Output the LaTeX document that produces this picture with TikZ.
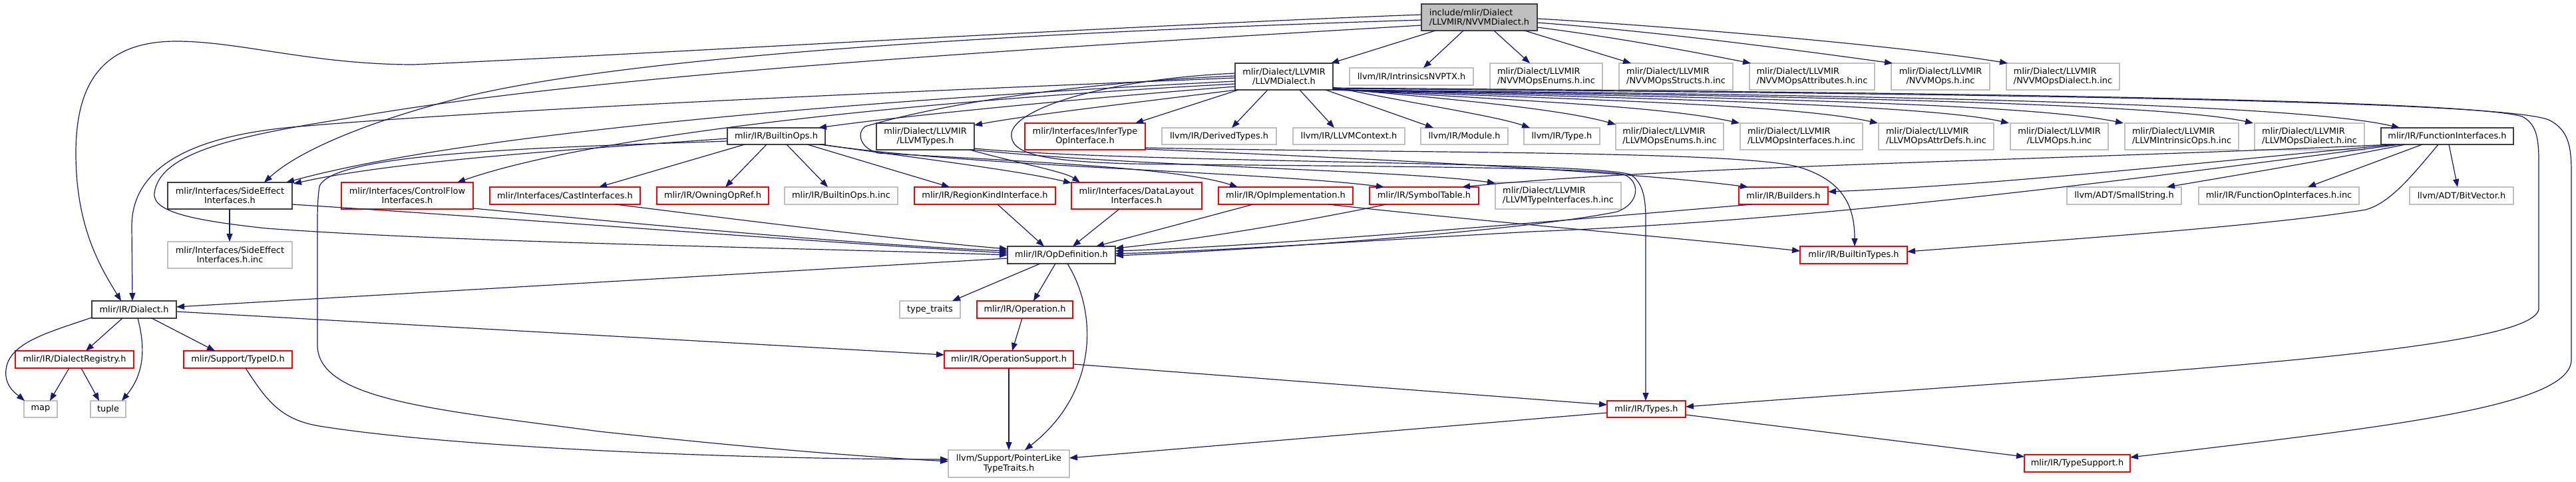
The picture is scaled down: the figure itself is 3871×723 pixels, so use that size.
\documentclass[tikz,border=0pt]{standalone}
\usepackage{fontspec}
\setmainfont{DejaVu Sans}
\usetikzlibrary{arrows.meta,calc}
\definecolor{mblue}{RGB}{25,25,112}
\definecolor{lgray}{RGB}{191,191,191}
\definecolor{dgray}{RGB}{64,64,64}
\newcommand\bx[7]{\node[#6,minimum width={#4-#2},minimum height={#5-#3}] (#1) at ({(#2+#4)/2},{(#3+#5)/2}) {#7};}
\begin{document}
\begin{tikzpicture}[x=1pt,y=-1pt,
  every node/.style={font=\fontsize{12.9}{14.3}\selectfont, inner sep=0pt, outer sep=0pt, text=black},
  dbox/.style={draw=dgray, line width=1.6pt, fill=white, align=center},
  gbox/.style={draw=lgray, line width=1.3pt, fill=white, align=center},
  gboxl/.style={gbox, align=left},
  rbox/.style={draw=red, line width=1.3pt, fill=white, align=center},
  rootbox/.style={draw=dgray, line width=1.6pt, fill=lgray, align=left},
  edge/.style={draw=mblue, line width=1.2pt, -{Triangle[length=12pt,width=9pt]}}]
\useasboundingbox[fill=white] (0,0) rectangle (3871,723);
% nodes
\bx{R}{2136}{6}{2310}{46}{rootbox}{include/mlir/Dialect\\/LLVMIR/NVVMDialect.h}
\bx{LD}{1856}{95}{2003}{135}{dbox}{mlir/Dialect/LLVMIR\\/LLVMDialect.h}
\bx{INV}{2028}{102}{2214}{128}{gbox}{llvm/IR/IntrinsicsNVPTX.h}
\bx{NE}{2239}{95}{2408}{135}{gboxl}{mlir/Dialect/LLVMIR\\/NVVMOpsEnums.h.inc}
\bx{NS}{2433}{95}{2604}{135}{gboxl}{mlir/Dialect/LLVMIR\\/NVVMOpsStructs.h.inc}
\bx{NA}{2629}{95}{2817}{135}{gboxl}{mlir/Dialect/LLVMIR\\/NVVMOpsAttributes.h.inc}
\bx{NO}{2842}{95}{2990}{135}{gbox}{mlir/Dialect/LLVMIR\\/NVVMOps.h.inc}
\bx{ND}{3015}{95}{3185}{135}{gboxl}{mlir/Dialect/LLVMIR\\/NVVMOpsDialect.h.inc}
\bx{BO}{1093}{192}{1240}{217}{dbox}{mlir/IR/BuiltinOps.h}
\bx{LT}{1317}{185}{1464}{225}{dbox}{mlir/Dialect/LLVMIR\\/LLVMTypes.h}
\bx{IT}{1540}{185}{1721}{225}{rbox}{mlir/Interfaces/InferType\\OpInterface.h}
\bx{DT}{1746}{192}{1918}{217}{gbox}{llvm/IR/DerivedTypes.h}
\bx{LC}{1943}{192}{2111}{217}{gbox}{llvm/IR/LLVMContext.h}
\bx{MO}{2135}{192}{2266}{217}{gbox}{llvm/IR/Module.h}
\bx{TY}{2290}{192}{2404}{217}{gbox}{llvm/IR/Type.h}
\bx{LOE}{2428}{185}{2590}{225}{gboxl}{mlir/Dialect/LLVMIR\\/LLVMOpsEnums.h.inc}
\bx{LOI}{2615}{185}{2799}{225}{gboxl}{mlir/Dialect/LLVMIR\\/LLVMOpsInterfaces.h.inc}
\bx{LOA}{2823}{185}{2996}{225}{gboxl}{mlir/Dialect/LLVMIR\\/LLVMOpsAttrDefs.h.inc}
\bx{LO}{3021}{185}{3168}{225}{gbox}{mlir/Dialect/LLVMIR\\/LLVMOps.h.inc}
\bx{LIO}{3193}{185}{3364}{225}{gboxl}{mlir/Dialect/LLVMIR\\/LLVMIntrinsicOps.h.inc}
\bx{LOD}{3388}{185}{3553}{225}{gboxl}{mlir/Dialect/LLVMIR\\/LLVMOpsDialect.h.inc}
\bx{FI}{3578}{192}{3777}{217}{dbox}{mlir/IR/FunctionInterfaces.h}
\bx{SE}{252}{274}{439}{314}{dbox}{mlir/Interfaces/SideEffect\\Interfaces.h}
\bx{CF}{513}{274}{711}{314}{rbox}{mlir/Interfaces/ControlFlow\\Interfaces.h}
\bx{CI}{736}{281}{962}{307}{rbox}{mlir/Interfaces/CastInterfaces.h}
\bx{OOR}{987}{281}{1155}{307}{rbox}{mlir/IR/OwningOpRef.h}
\bx{BOI}{1179}{281}{1349}{307}{gbox}{mlir/IR/BuiltinOps.h.inc}
\bx{RK}{1374}{281}{1586}{307}{rbox}{mlir/IR/RegionKindInterface.h}
\bx{DL}{1610}{274}{1806}{314}{rbox}{mlir/Interfaces/DataLayout\\Interfaces.h}
\bx{OI}{1831}{281}{2033}{307}{rbox}{mlir/IR/OpImplementation.h}
\bx{ST}{2058}{281}{2222}{307}{rbox}{mlir/IR/SymbolTable.h}
\bx{LTI}{2247}{274}{2436}{314}{gboxl}{mlir/Dialect/LLVMIR\\/LLVMTypeInterfaces.h.inc}
\bx{BU}{2613}{281}{2747}{307}{rbox}{mlir/IR/Builders.h}
\bx{SS}{3106}{281}{3278}{307}{gbox}{llvm/ADT/SmallString.h}
\bx{FOI}{3304}{281}{3545}{307}{gbox}{mlir/IR/FunctionOpInterfaces.h.inc}
\bx{BV}{3621}{281}{3777}{307}{gbox}{llvm/ADT/BitVector.h}
\bx{SEI}{252}{363}{439}{403}{gbox}{mlir/Interfaces/SideEffect\\Interfaces.h.inc}
\bx{OD}{1514}{370}{1676}{396}{dbox}{mlir/IR/OpDefinition.h}
\bx{BT}{2705}{370}{2866}{396}{rbox}{mlir/IR/BuiltinTypes.h}
\bx{DI}{138}{452}{265}{478}{dbox}{mlir/IR/Dialect.h}
\bx{TT}{1352}{452}{1443}{478}{gbox}{type\_traits}
\bx{OP}{1468}{452}{1612}{478}{rbox}{mlir/IR/Operation.h}
\bx{DR}{23}{527}{201}{553}{rbox}{mlir/IR/DialectRegistry.h}
\bx{TID}{276}{527}{439}{553}{rbox}{mlir/Support/TypeID.h}
\bx{OS}{1419}{527}{1613}{553}{rbox}{mlir/IR/OperationSupport.h}
\bx{MAP}{36}{602}{86}{627}{gbox}{map}
\bx{TUP}{136}{602}{189}{627}{gbox}{tuple}
\bx{TYS}{2415}{602}{2533}{627}{rbox}{mlir/IR/Types.h}
\bx{PL}{1425}{676}{1607}{717}{gbox}{llvm/Support/PointerLike\\TypeTraits.h}
\bx{TS}{3042}{683}{3201}{709}{rbox}{mlir/IR/TypeSupport.h}
% edges from root
\draw[edge] ($(R.north west)+(21,40)$) -- ($(LD.north west)+(144,0)$);
\draw[edge] ($(R.north west)+(63,40)$) -- ($(INV.north west)+(111,0)$);
\draw[edge] ($(R.north west)+(109,40)$) -- ($(NE.north west)+(60,0)$);
\draw[edge] ($(R.north west)+(155,40)$) -- ($(NS.north west)+(18,0)$);
\draw[edge] ($(R.north west)+(174,35)$) .. controls (2420,55) and (2530,75) .. ($(NA.north west)+(2,0)$);
\draw[edge] ($(R.north west)+(174,28)$) .. controls (2500,48) and (2720,78) .. ($(NO.north west)+(2,0)$);
\draw[edge] ($(R.north west)+(174,22)$) .. controls (2550,42) and (2880,72) .. ($(ND.north west)+(2,0)$);
\draw[edge] ($(R.north west)+(0,16)$) .. controls (1700,38) and (900,85) .. (622,97) .. controls (470,97) and (360,62) .. (265,62) .. controls (150,62) and (114,130) .. (114,230) .. controls (114,340) and (150,400) .. ($(DI.north west)+(44,0)$);
\draw[edge] ($(R.north west)+(0,24)$) .. controls (1500,50) and (950,85) .. (700,145) .. controls (560,180) and (450,225) .. ($(SE.north west)+(145,0)$);
\draw[edge] ($(R.north west)+(0,32)$) .. controls (1600,70) and (900,110) .. (520,178) .. controls (350,205) and (240,230) .. (232,290) .. controls (228,320) and (300,332) .. (400,343) .. controls (700,365) and (1200,372) .. ($(OD.north west)+(0,13)$);
% edges from LLVMDialect
\draw[edge] ($(LD.north west)+(0,22)$) .. controls (1500,132) and (800,160) .. (450,190) .. controls (290,203) and (198,250) .. (198,340) -- ($(DI.north west)+(61,0)$);
\draw[edge] ($(LD.north west)+(0,27)$) .. controls (1300,150) and (700,200) .. ($(SE.north west)+(178,0)$);
\draw[edge] ($(LD.north west)+(0,31)$) .. controls (1400,150) and (900,200) .. ($(CF.north west)+(174,0)$);
\draw[edge] ($(LD.north west)+(0,35)$) .. controls (1600,150) and (1350,175) .. ($(BO.north west)+(137,0)$);
\draw[edge] ($(LD.north west)+(2,40)$) .. controls (1700,155) and (1550,172) .. ($(LT.north west)+(147,3)$);
\draw[edge] ($(LD.north west)+(5,40)$) -- ($(IT.north west)+(166,0)$);
\draw[edge] ($(LD.north west)+(49,40)$) -- ($(DT.north west)+(105,0)$);
\draw[edge] ($(LD.north west)+(97,40)$) -- ($(LC.north west)+(62,0)$);
\draw[edge] ($(LD.north west)+(136,40)$) -- ($(MO.north west)+(19,0)$);
\draw[edge] ($(LD.north west)+(147,36)$) .. controls (2150,160) and (2250,175) .. ($(TY.north west)+(9,0)$);
\draw[edge] ($(LD.north west)+(147,38)$) .. controls (2200,150) and (2350,165) .. ($(LOE.north west)+(0,2)$);
\draw[edge] ($(LD.north west)+(147,39)$) .. controls (2300,152) and (2500,160) .. ($(LOI.north west)+(-1,0)$);
\draw[edge] ($(LD.north west)+(147,40)$) .. controls (2400,150) and (2700,158) .. ($(LOA.north west)+(-1,0)$);
\draw[edge] ($(LD.north west)+(147,40)$) .. controls (2500,148) and (2900,158) .. ($(LO.north west)+(-2,0)$);
\draw[edge] ($(LD.north west)+(147,40)$) .. controls (2600,146) and (3050,156) .. ($(LIO.north west)+(-2,0)$);
\draw[edge] ($(LD.north west)+(147,40)$) .. controls (2700,144) and (3250,155) .. ($(LOD.north west)+(-2,0)$);
\draw[edge] ($(LD.north west)+(147,40)$) .. controls (2800,142) and (3450,155) .. ($(FI.north west)+(28,0)$);
\draw[edge] ($(LD.north west)+(147,37)$) .. controls (2800,138) and (3700,148) .. (3790,175) .. controls (3810,185) and (3815,205) .. (3815,240) -- (3815,465) .. controls (3800,530) and (3200,560) .. ($(TYS.north west)+(118,9)$);
\draw[edge] ($(LD.north west)+(147,38)$) .. controls (2800,140) and (3750,148) .. (3830,180) .. controls (3860,195) and (3864,220) .. (3864,260) -- (3864,540) .. controls (3864,610) and (3600,640) .. ($(TS.north west)+(159,4)$);
\draw[edge] ($(LD.north west)+(0,19)$) .. controls (1600,125) and (1400,160) .. (1300,190) .. controls (1288,198) and (1290,222) .. (1320,230) .. controls (1600,245) and (1780,255) .. ($(OI.north west)+(29,0)$);
\draw[edge] ($(LD.north west)+(0,15)$) .. controls (1650,120) and (1525,165) .. (1520,200) .. controls (1517,230) and (1560,242) .. (1700,246) .. controls (2000,250) and (2380,250) .. (2440,262) .. controls (2465,272) and (2465,305) .. (2430,318) .. controls (2300,345) and (1900,375) .. ($(OD.north west)+(162,14)$);
% LLVMTypes
\draw[edge] ($(LT.north west)+(140,40)$) .. controls (1530,245) and (1600,258) .. ($(DL.north west)+(13,0)$);
\draw[edge] ($(LT.north west)+(145,40)$) .. controls (1700,250) and (2100,255) .. ($(LTI.north west)+(0,1)$);
\draw[edge] ($(LT.north west)+(147,38)$) .. controls (1700,245) and (2380,242) .. (2450,262) .. controls (2470,275) and (2473,300) .. (2473,330) -- ($(TYS.north west)+(58,0)$);
% InferTypeOpInterface
\draw[edge] ($(IT.north west)+(181,37)$) .. controls (2100,230) and (2600,226) .. (2700,250) .. controls (2770,270) and (2787,310) .. ($(BT.north west)+(82,0)$);
\draw[edge] ($(IT.north west)+(181,39)$) .. controls (2100,240) and (2450,258) .. ($(BU.north west)+(14,0)$);
% BuiltinOps
\draw[edge] ($(BO.north west)+(0,16)$) .. controls (900,222) and (600,240) .. ($(SE.north west)+(189,2)$);
\draw[edge] ($(BO.north west)+(0,20)$) .. controls (800,222) and (500,230) .. (480,280) .. controls (477,300) and (477,320) .. (477,340) -- (477,520) .. controls (480,600) and (650,615) .. (900,648) .. controls (1150,675) and (1300,686) .. ($(PL.north west)+(0,17)$);
\draw[edge] ($(BO.north west)+(26,25)$) -- ($(CI.north west)+(164,0)$);
\draw[edge] ($(BO.north west)+(59,25)$) -- ($(OOR.north west)+(103,0)$);
\draw[edge] ($(BO.north west)+(89,25)$) -- ($(BOI.north west)+(65,0)$);
\draw[edge] ($(BO.north west)+(120,25)$) -- ($(RK.north west)+(53,0)$);
\draw[edge] ($(BO.north west)+(139,25)$) .. controls (1400,240) and (1540,258) .. ($(DL.north west)+(0,1)$);
\draw[edge] ($(BO.north west)+(142,25)$) .. controls (1450,250) and (1900,258) .. ($(ST.north west)+(22,0)$);
% into OpDefinition
\draw[edge] ($(SE.north west)+(93,40)$) -- ($(SEI.north west)+(93,0)$);
\draw[edge] ($(SE.north west)+(187,33)$) .. controls (800,330) and (1200,362) .. ($(OD.north west)+(0,10)$);
\draw[edge] ($(CF.north west)+(198,39)$) .. controls (1000,340) and (1300,368) .. ($(OD.north west)+(0,7)$);
\draw[edge] ($(CI.north west)+(189,26)$) .. controls (1150,335) and (1350,360) .. ($(OD.north west)+(0,4)$);
\draw[edge] ($(RK.north west)+(125,26)$) -- ($(OD.north west)+(55,0)$);
\draw[edge] ($(DL.north west)+(72,40)$) -- ($(OD.north west)+(98,0)$);
\draw[edge] ($(OI.north west)+(52,26)$) -- ($(OD.north west)+(133,0)$);
\draw[edge] ($(ST.north west)+(25,26)$) .. controls (1950,335) and (1780,362) .. ($(OD.north west)+(162,3)$);
\draw[edge] ($(BU.north west)+(20,26)$) .. controls (2300,335) and (1900,370) .. ($(OD.north west)+(162,7)$);
\draw[edge] ($(FI.north west)+(28,25)$) .. controls (3200,270) and (2750,330) .. (2300,348) .. controls (2000,365) and (1800,378) .. ($(OD.north west)+(162,11)$);
% FunctionInterfaces
\draw[edge] ($(FI.north west)+(22,25)$) .. controls (3300,245) and (3000,278) .. ($(BU.north west)+(134,7)$);
\draw[edge] ($(FI.north west)+(17,25)$) .. controls (3100,240) and (2500,250) .. ($(ST.north west)+(139,0)$);
\draw[edge] ($(FI.north west)+(37,25)$) .. controls (3500,240) and (3350,265) .. ($(SS.north west)+(150,0)$);
\draw[edge] ($(FI.north west)+(62,25)$) -- ($(FOI.north west)+(164,0)$);
\draw[edge] ($(FI.north west)+(102,25)$) -- ($(BV.north west)+(72,0)$);
\draw[edge] ($(FI.north west)+(86,25)$) .. controls (3620,270) and (3590,305) .. (3555,315) .. controls (3400,340) and (3100,360) .. ($(BT.north west)+(161,8)$);
\draw[edge] ($(OI.north west)+(165,26)$) .. controls (2200,330) and (2550,360) .. ($(BT.north west)+(0,7)$);
% lower part
\draw[edge] ($(DI.north west)+(46,26)$) -- ($(DR.north west)+(106,0)$);
\draw[edge] ($(DI.north west)+(90,26)$) -- ($(TID.north west)+(47,0)$);
\draw[edge] ($(DI.north west)+(0,25)$) .. controls (70,500) and (14,515) .. (9,555) .. controls (6,580) and (25,592) .. ($(MAP.north west)+(1,0)$);
\draw[edge] ($(DI.north west)+(69,26)$) .. controls (218,520) and (218,560) .. ($(TUP.north west)+(47,0)$);
\draw[edge] ($(DR.north west)+(81,26)$) -- ($(MAP.north west)+(39,0)$);
\draw[edge] ($(DR.north west)+(99,26)$) -- ($(TUP.north west)+(13,0)$);
\draw[edge] ($(DI.north west)+(127,16)$) -- ($(OS.north west)+(0,6)$);
\draw[edge] ($(OD.north west)+(0,18)$) -- ($(DI.north west)+(127,9)$);
\draw[edge] ($(OD.north west)+(49,26)$) -- ($(TT.north west)+(79,0)$);
\draw[edge] ($(OD.north west)+(72,26)$) -- ($(OP.north west)+(85,0)$);
\draw[edge] ($(OD.north west)+(90,26)$) .. controls (1650,470) and (1650,590) .. ($(PL.north west)+(115,0)$);
\draw[edge] ($(OP.north west)+(68,26)$) -- ($(OS.north west)+(102,0)$);
\draw[edge] ($(OS.north west)+(97,26)$) -- ($(PL.north west)+(91,0)$);
\draw[edge] ($(OS.north west)+(194,20)$) -- ($(TYS.north west)+(0,6)$);
\draw[edge] ($(TYS.north west)+(0,18)$) -- ($(PL.north west)+(182,12)$);
\draw[edge] ($(TYS.north west)+(118,21)$) -- ($(TS.north west)+(0,3)$);
\draw[edge] ($(TID.north west)+(93,26)$) .. controls (400,600) and (420,630) .. (480,640) .. controls (700,675) and (1150,690) .. ($(PL.north west)+(0,14)$);
\end{tikzpicture}
\end{document}
